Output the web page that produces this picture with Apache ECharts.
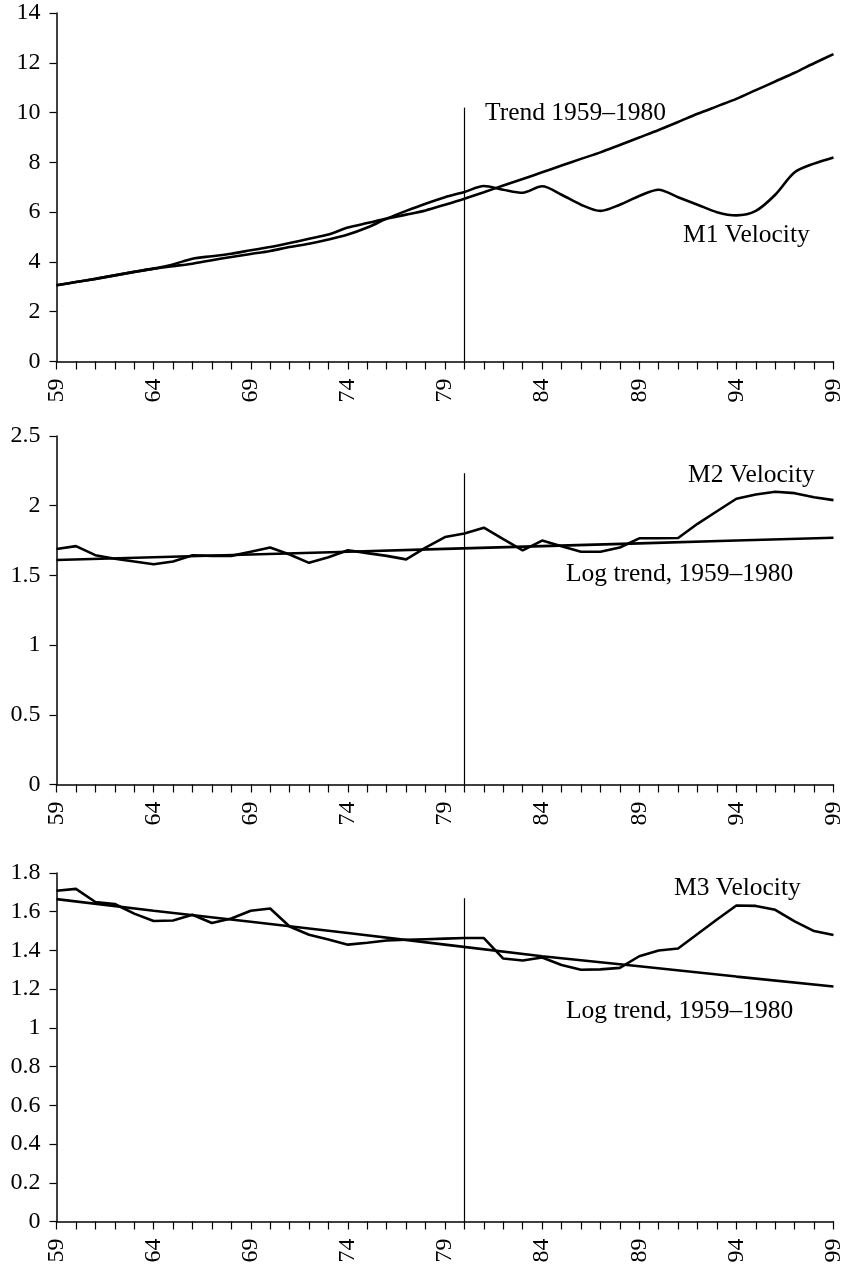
<!DOCTYPE html>
<html>
<head>
<meta charset="utf-8">
<script src="https://cdn.jsdelivr.net/npm/echarts@6/dist/echarts.min.js"></script>
<style>
  html, body { margin: 0; padding: 0; background: #fff; }
  #chart { width: 846px; height: 1267px; }
</style>
</head>
<body>
<div id="chart"></div>
<script>
// years 1959-1999, written as two digits like on the axis
let years = [59, 60, 61, 62, 63, 64, 65, 66, 67, 68, 69, 70, 71, 72, 73, 74, 75, 76, 77, 78, 79,
  80, 81, 82, 83, 84, 85, 86, 87, 88, 89, 90, 91, 92, 93, 94, 95, 96, 97, 98, 99]

// panel 1 - M1 velocity and its trend
let m1Velocity = [3.06, 3.19, 3.32, 3.46, 3.6, 3.73, 3.83, 3.93, 4.07, 4.2, 4.32, 4.44, 4.6, 4.73, 4.9, 5.1, 5.38, 5.74, 6.05, 6.34, 6.6,
  6.81, 7.05, 6.9, 6.78, 7.04, 6.7, 6.3, 6.05, 6.3, 6.65, 6.9, 6.6, 6.3, 6.0, 5.87, 6.05, 6.7, 7.6, 7.95, 8.2]
let m1Trend = [3.06, 3.19, 3.32, 3.46, 3.6, 3.73, 3.9, 4.13, 4.23, 4.33, 4.47, 4.6, 4.76, 4.93, 5.1, 5.38, 5.56, 5.74, 5.9, 6.07, 6.3,
  6.54, 6.8, 7.07, 7.33, 7.6, 7.87, 8.14, 8.4, 8.7, 9.0, 9.3, 9.62, 9.95, 10.25, 10.55, 10.9, 11.25, 11.6, 11.98, 12.35]

// panel 2 - M2 velocity
let m2Velocity = [1.69, 1.71, 1.645, 1.62, 1.6, 1.58, 1.6, 1.645, 1.64, 1.64, 1.67, 1.7, 1.65, 1.59, 1.63, 1.68, 1.66, 1.64, 1.615, 1.7, 1.775,
  1.8, 1.842, 1.76, 1.68, 1.75, 1.71, 1.67, 1.67, 1.7, 1.766, 1.766, 1.768, 1.87, 1.96, 2.05, 2.08, 2.1, 2.09, 2.06, 2.04]

// panel 3 - M3 velocity
let m3Velocity = [1.708, 1.718, 1.65, 1.64, 1.59, 1.552, 1.555, 1.584, 1.542, 1.565, 1.605, 1.617, 1.524, 1.481, 1.457, 1.43, 1.44, 1.451, 1.455, 1.458, 1.461,
  1.464, 1.464, 1.358, 1.348, 1.364, 1.325, 1.3, 1.302, 1.31, 1.37, 1.4, 1.41, 1.485, 1.56, 1.632, 1.63, 1.61, 1.55, 1.5, 1.48]

// log trends (straight lines), read every 5 years
let trendYears = [59, 64, 69, 74, 79, 84, 89, 94, 99]
let m2Trend = [1.61, 1.63, 1.65, 1.67, 1.69, 1.71, 1.73, 1.75, 1.77]
let m3Trend = [1.665, 1.605, 1.548, 1.49, 1.43, 1.37, 1.318, 1.265, 1.214]

// y axis setup per panel
let yMax = [14, 2.5, 1.8]
let yStep = [2, 0.5, 0.2]
// top of the vertical 1980 line
let breakYear = 80
let breakTop = [10.2, 2.233, 1.67]

let labels = [
  ['Trend 1959\u20131980', 485, 113],
  ['M1 Velocity', 683, 235],
  ['M2 Velocity', 688, 475],
  ['Log trend, 1959\u20131980', 566, 574],
  ['M3 Velocity', 674, 888],
  ['Log trend, 1959\u20131980', 566, 1011]
]

function pairs (xs, ys) {
  return xs.map((x, i) => [x, ys[i]])
}

let font = 'Liberation Serif'
let gridTops = [13, 436, 873]

let grids = []
let xAxes = []
let yAxes = []
gridTops.forEach((t, i) => {
  grids.push({left: 56.5, right: 12.5, top: t, height: 348.5})
  xAxes.push({
    type: 'value',
    gridIndex: i,
    min: 59,
    max: 99,
    interval: 1,
    splitLine: {show: false},
    axisLine: {lineStyle: {color: '#000', width: 1.5}},
    axisTick: {length: 8, lineStyle: {color: '#000', width: 1.2}},
    axisLabel: {
      rotate: 90,
      margin: 17,
      color: '#000',
      fontFamily: font,
      fontSize: 24,
      formatter: v => ((v - 59) % 5 === 0 ? String(v) : '')
    }
  })
  yAxes.push({
    type: 'value',
    gridIndex: i,
    min: 0,
    max: yMax[i],
    interval: yStep[i],
    splitLine: {show: false},
    axisLine: {show: true, lineStyle: {color: '#000', width: 1.5}},
    axisTick: {show: true, length: 7, lineStyle: {color: '#000', width: 1.2}},
    axisLabel: {
      margin: 16,
      color: '#000',
      fontFamily: font,
      fontSize: 24,
      formatter: v => String(Math.round(v * 10) / 10)
    }
  })
})

function lineSeries (idx, data, smooth) {
  return {
    type: 'line',
    xAxisIndex: idx,
    yAxisIndex: idx,
    data: data,
    symbol: 'none',
    smooth: smooth,
    lineStyle: {color: '#000', width: 2.6},
    silent: true
  }
}

function breakLine (idx) {
  return {
    type: 'line',
    xAxisIndex: idx,
    yAxisIndex: idx,
    data: [],
    markLine: {
      silent: true,
      symbol: ['none', 'none'],
      label: {show: false},
      lineStyle: {color: '#000', width: 1.2, type: 'solid'},
      data: [[{coord: [breakYear, 0]}, {coord: [breakYear, breakTop[idx]]}]]
    }
  }
}

let myChart = echarts.init(document.getElementById('chart'))
myChart.setOption({
  animation: false,
  backgroundColor: '#fff',
  grid: grids,
  xAxis: xAxes,
  yAxis: yAxes,
  series: [
    lineSeries(0, pairs(years, m1Trend), 0.3),
    lineSeries(0, pairs(years, m1Velocity), 0.3),
    breakLine(0),
    lineSeries(1, pairs(years, m2Velocity), false),
    lineSeries(1, pairs(trendYears, m2Trend), false),
    breakLine(1),
    lineSeries(2, pairs(years, m3Velocity), false),
    lineSeries(2, pairs(trendYears, m3Trend), false),
    breakLine(2)
  ],
  graphic: labels.map(l => ({
    type: 'text',
    x: l[1],
    y: l[2],
    style: {
      text: l[0],
      fill: '#000',
      fontFamily: font,
      fontSize: 25.5,
      verticalAlign: 'middle'
    }
  }))
})
</script>
</body>
</html>
